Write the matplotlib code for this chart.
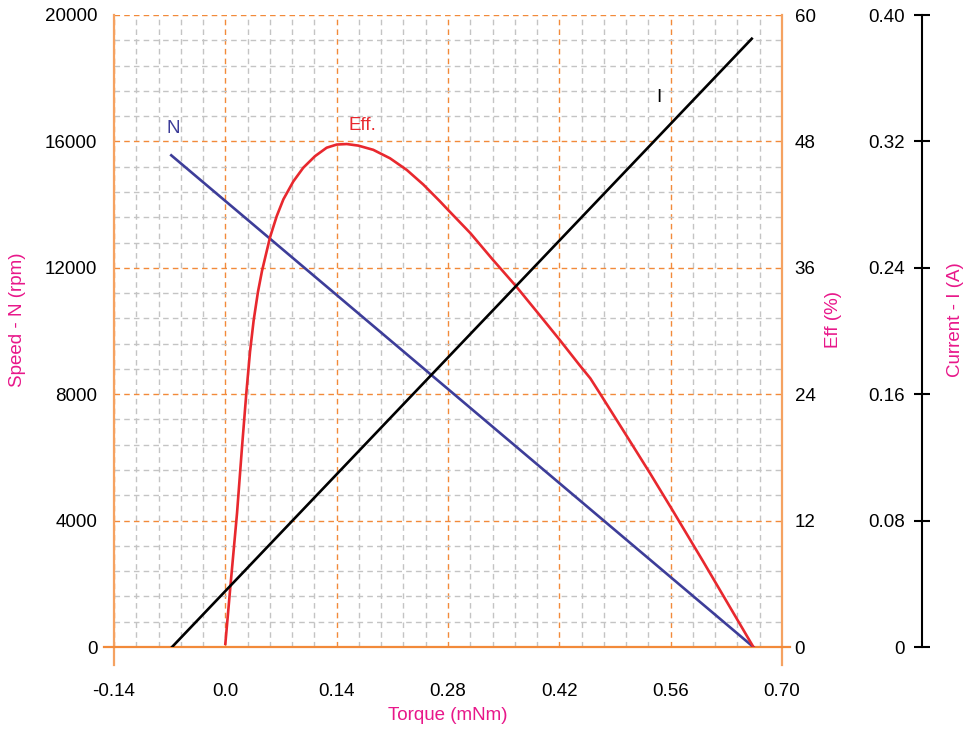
import numpy as np
from matplotlib import pyplot as plt
from matplotlib.lines import Line2D

plt.rcParams['font.family'] = ['Liberation Sans', 'DejaVu Sans']

# speed line (torque in mNm, speed in rpm)
torque_n = [-0.068, 0.664]
speed = [15560, 0]

# current line (torque in mNm, current in A)
torque_i = [-0.067, 0.662]
current = [0.0, 0.385]

# efficiency curve (torque in mNm, eff in %)
eff_torque = [0.000, 0.0063, 0.0147, 0.021, 0.0264, 0.031, 0.0356, 0.041, 0.0461, 0.0562,
              0.0646, 0.073, 0.0855, 0.098, 0.1128, 0.1274, 0.140, 0.1526, 0.1672, 0.186,
              0.207, 0.228, 0.249, 0.270, 0.280, 0.308, 0.336, 0.365, 0.391, 0.420,
              0.445, 0.459, 0.470, 0.505, 0.534, 0.563, 0.601, 0.664]
eff_vals = [0.3, 5.7, 12.7, 19.0, 24.1, 28.0, 31.0, 33.7, 35.7, 38.9,
            40.9, 42.5, 44.2, 45.5, 46.6, 47.4, 47.7, 47.75, 47.6, 47.2,
            46.4, 45.3, 43.9, 42.3, 41.5, 39.3, 36.8, 34.3, 31.9, 29.2,
            26.8, 25.5, 24.2, 20.0, 16.5, 12.9, 8.1, 0.0]

x_ticks = [-0.14, 0.0, 0.14, 0.28, 0.42, 0.56, 0.70]
x_labels = ["-0.14", "0.0", "0.14", "0.28", "0.42", "0.56", "0.70"]
speed_ticks = [0, 4000, 8000, 12000, 16000, 20000]
eff_ticks = [0, 12, 24, 36, 48, 60]
cur_ticks = [0, 0.08, 0.16, 0.24, 0.32, 0.40]
cur_labels = ["0", "0.08", "0.16", "0.24", "0.32", "0.40"]

orange = "#f28a3a"
spine_orange = "#f5a261"
gray = "#c4c4c4"
magenta = "#e8178a"
navy = "#3d3d99"
red = "#e8282e"

W, H = 967, 729
L, R, T, B = 114, 782, 15, 647
fig = plt.figure(figsize=(W / 100, H / 100), dpi=100)
ax = fig.add_axes([L / W, 1 - B / H, (R - L) / W, (B - T) / H])

ax.set_xlim(-0.14, 0.70)
ax.set_ylim(0, 20000)
ax.set_xticks(x_ticks)
ax.set_xticklabels(x_labels)
ax.set_xticks(np.arange(-0.14, 0.7001, 0.028), minor=True)
ax.set_yticks(speed_ticks)
ax.set_yticks(np.arange(0, 20001, 800), minor=True)
ax.tick_params(axis='both', which='both', length=0, labelsize=13.5)
ax.tick_params(axis='y', pad=12)
ax.tick_params(axis='x', pad=26)

ax.grid(which='minor', color=gray, linestyle=(0, (4, 3)), linewidth=1.0, zorder=0)
ax.grid(which='major', color=orange, linestyle=(0, (4, 3)), linewidth=1.0, zorder=0.5)
ax.set_axisbelow(True)
for s in ax.spines.values():
    s.set_visible(False)

# frame lines, extended a little past the plot box
w_px, h_px = R - L, B - T
ext_down = -18 / h_px
ax.add_line(Line2D([0, 0], [ext_down, 1], transform=ax.transAxes, color=spine_orange,
                   linewidth=1.6, clip_on=False, zorder=1))
ax.add_line(Line2D([1, 1], [ext_down, 1], transform=ax.transAxes, color=spine_orange,
                   linewidth=1.6, clip_on=False, zorder=1))
ax.add_line(Line2D([-10 / w_px, 1 + 8 / w_px], [0, 0], transform=ax.transAxes, color=orange,
                   linewidth=1.6, clip_on=False, zorder=1))

ax.plot(torque_n, speed, color=navy, linewidth=1.9, zorder=3)
ax.text(-0.065, 16400, "N", color=navy, fontsize=13.5, ha='center', va='center')

# efficiency axis
ax_eff = ax.twinx()
ax_eff.set_ylim(0, 60)
ax_eff.set_yticks(eff_ticks)
ax_eff.tick_params(axis='y', length=0, pad=9, labelsize=13.5)
for s in ax_eff.spines.values():
    s.set_visible(False)
ax_eff.plot(eff_torque, eff_vals, color=red, linewidth=1.9, zorder=3)
ax_eff.text(0.172, 49.5, "Eff.", color=red, fontsize=13.5, ha='center', va='center')

# current axis
ax_cur = ax.twinx()
ax_cur.set_ylim(0, 0.4)
for s in ax_cur.spines.values():
    s.set_visible(False)
ax_cur.spines['left'].set_visible(True)
ax_cur.spines['left'].set_position(('axes', (922 - L) / w_px))
ax_cur.spines['left'].set_linewidth(1.5)
ax_cur.yaxis.tick_left()
ax_cur.set_yticks(cur_ticks)
ax_cur.set_yticklabels(cur_labels)
ax_cur.tick_params(axis='y', direction='inout', length=11, width=1.5, pad=7, labelsize=13.5)
ax_cur.plot(torque_i, current, color="black", linewidth=1.9, zorder=3)
ax_cur.text(0.545, 0.348, "I", color="black", fontsize=13.5, ha='center', va='center')

fig.text(18 / W, 1 - 320 / H, "Speed - N (rpm)", color=magenta, fontsize=13.5,
         rotation=90, ha='center', va='center')
fig.text(833 / W, 1 - 320 / H, "Eff (%)", color=magenta, fontsize=13.5,
         rotation=90, ha='center', va='center')
fig.text(955 / W, 1 - 320 / H, "Current - I (A)", color=magenta, fontsize=13.5,
         rotation=90, ha='center', va='center')
fig.text(448 / W, 1 - 715 / H, "Torque (mNm)", color=magenta, fontsize=13.5,
         ha='center', va='center')

fig.savefig("out.png", dpi=100)
